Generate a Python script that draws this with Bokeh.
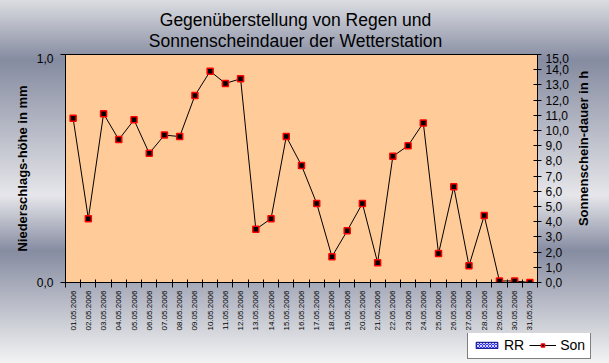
import math
from bokeh.plotting import figure
from bokeh.layouts import row, column
from bokeh.models import (Range1d, LinearAxis, FixedTicker, Legend,
                          LegendItem, ColumnDataSource)
from bokeh.core.properties import value
from bokeh.embed import file_html
from bokeh.resources import INLINE

# ---------------- data ----------------
dates = ["01.05.2006", "02.05.2006", "03.05.2006", "04.05.2006", "05.05.2006",
         "06.05.2006", "07.05.2006", "08.05.2006", "09.05.2006", "10.05.2006",
         "11.05.2006", "12.05.2006", "13.05.2006", "14.05.2006", "15.05.2006",
         "16.05.2006", "17.05.2006", "18.05.2006", "19.05.2006", "20.05.2006",
         "21.05.2006", "22.05.2006", "23.05.2006", "24.05.2006", "25.05.2006",
         "26.05.2006", "27.05.2006", "28.05.2006", "29.05.2006", "30.05.2006",
         "31.05.2006"]
rr = [0.0, 0.0, 0.0, 0.0, 0.0, 0.0, 0.0, 0.0, 0.0, 0.0,
      0.0, 0.0, 0.0, 0.0, 0.0, 0.0, 0.0, 0.0, 0.0, 0.0,
      0.0, 0.0, 0.0, 0.0, 0.0, 0.0, 0.0, 0.0, 0.0, 0.0, 0.0]
son = [10.8, 4.2, 11.1, 9.4, 10.7, 8.5, 9.7, 9.6, 12.3, 13.9,
       13.1, 13.4, 3.5, 4.2, 9.6, 7.7, 5.2, 1.7, 3.4, 5.2,
       1.3, 8.3, 9.0, 10.5, 1.9, 6.3, 1.1, 4.4, 0.1, 0.1, 0.0]
left_ticks = [0, 1]
left_labels = ["0,0", "1,0"]
right_ticks = [0, 1, 2, 3, 4, 5, 6, 7, 8, 9, 10, 11, 12, 13, 14, 15]
right_labels = ["0,0", "1,0", "2,0", "3,0", "4,0", "5,0", "6,0", "7,0",
                "8,0", "9,0", "10,0", "11,0", "12,0", "13,0", "14,0", "15,0"]
title_lines = ["Gegenüberstellung von Regen und",
               "Sonnenscheindauer der Wetterstation"]
left_title = "Niederschlags-höhe in mm"
right_title = "Sonnenschein-dauer in h"
series_names = ["RR", "Son"]

FONT = "Liberation Sans"
PAGE_W, PAGE_H = 609, 363
TOP_H = 53                      # title strip
MAIN_W, MAIN_H = 572, 279       # chart (frame starts 1px below its top)
STRIP_W = PAGE_W - MAIN_W
LEG_H = PAGE_H - TOP_H - MAIN_H
FRAME_L, FRAME_T, FRAME_W, FRAME_H = 65, 1, 472, 228


def blank(fig):
    fig.background_fill_alpha = 0
    fig.border_fill_alpha = 0
    fig.outline_line_color = None
    fig.grid.visible = False
    return fig


pos = list(range(1, len(dates) + 1))
src = ColumnDataSource(dict(x=pos, rr=rr, son=son, d=dates))

# ---------------- title strip ----------------
top = blank(figure(width=PAGE_W, height=TOP_H, x_range=Range1d(0, PAGE_W), y_range=Range1d(0, TOP_H),
                   min_border=0, output_backend="svg", toolbar_location=None, title=None,
                   x_axis_location=None, y_axis_location=None))
top.text(x=[295, 295], y=[TOP_H - 19, TOP_H - 40], text=title_lines,
         text_align="center", text_baseline="alphabetic",
         text_font=value(FONT), text_font_size="17.5px", text_color="black")

# ---------------- main chart ----------------
p = figure(frame_width=FRAME_W, frame_height=FRAME_H,
           min_border_left=FRAME_L, min_border_right=MAIN_W - FRAME_L - FRAME_W,
           min_border_top=FRAME_T, min_border_bottom=MAIN_H - FRAME_T - FRAME_H,
           x_range=Range1d(0.5, len(dates) + 0.5), y_range=Range1d(0, 1),
           x_axis_location=None, y_axis_location=None, title=None,
           output_backend="svg", toolbar_location=None)
p.extra_y_ranges = {"son": Range1d(0, 15)}
p.background_fill_color = "#ffcc99"
p.border_fill_alpha = 0
p.outline_line_color = "black"
p.outline_line_width = 1
p.grid.visible = False

xaxis = LinearAxis(
    ticker=FixedTicker(ticks=pos, minor_ticks=[i + 0.5 for i in range(0, len(dates) + 1)]),
    major_label_overrides={k: d for k, d in zip(pos, dates)},
    major_label_orientation=math.pi / 2,
    major_tick_line_color=None, major_tick_in=0, major_tick_out=5,
    minor_tick_line_color="black", minor_tick_in=3, minor_tick_out=5,
    major_label_standoff=3,
    major_label_text_font=FONT, major_label_text_font_size="8px",
    major_label_text_color="black",
    axis_line_color="black")
p.add_layout(xaxis, "below")

laxis = LinearAxis(
    ticker=FixedTicker(ticks=left_ticks),
    major_label_overrides={k: l for k, l in zip(left_ticks, left_labels)},
    major_tick_in=0, major_tick_out=5, minor_tick_line_color=None,
    major_label_standoff=7,
    major_label_text_font=FONT, major_label_text_font_size="12px",
    major_label_text_color="black",
    axis_label=left_title,
    axis_label_text_font=FONT, axis_label_text_font_size="13px",
    axis_label_text_font_style="bold", axis_label_text_color="black",
    axis_label_standoff=4,
    axis_line_color="black")
p.add_layout(laxis, "left")

raxis = LinearAxis(
    y_range_name="son",
    ticker=FixedTicker(ticks=right_ticks),
    major_label_overrides={k: l for k, l in zip(right_ticks, right_labels)},
    major_tick_in=4, major_tick_out=4, minor_tick_line_color=None,
    major_label_standoff=4,
    major_label_text_font=FONT, major_label_text_font_size="12px",
    major_label_text_color="black",
    axis_line_color="black")
p.add_layout(raxis, "right")

BAR_STYLE = dict(fill_color="#3030ff", line_color="#000080", line_width=1,
                 hatch_pattern="x", hatch_color="white", hatch_scale=3, hatch_weight=0.8)
LINE_STYLE = dict(line_color="black", line_width=1)
PT_STYLE = dict(marker="square", size=6, fill_color="black", line_color="red", line_width=1.5)

p.vbar(x="x", top="rr", width=0.6, source=src, **BAR_STYLE)
p.line("x", "son", source=src, y_range_name="son", **LINE_STYLE)
p.scatter("x", "son", source=src, y_range_name="son", **PT_STYLE)

# ---------------- right axis title strip ----------------
strip = blank(figure(width=STRIP_W, height=MAIN_H, x_range=Range1d(0, STRIP_W), y_range=Range1d(0, MAIN_H),
                     min_border=0, output_backend="svg", toolbar_location=None, title=None,
                     x_axis_location=None, y_axis_location=None))
strip.text(x=[583 - MAIN_W], y=[MAIN_H - (168.5 - TOP_H)], text=[right_title], angle=math.pi / 2,
           text_align="center", text_baseline="middle",
           text_font=value(FONT), text_font_size="13px", text_font_style="bold",
           text_color="black")

# ---------------- legend strip ----------------
lf = blank(figure(width=PAGE_W, height=LEG_H, x_range=Range1d(-2, -1), y_range=Range1d(-2, -1),
                  min_border=0, output_backend="svg", toolbar_location=None, title=None,
                  x_axis_location=None, y_axis_location=None))
r_bar = lf.vbar(x="x", top="rr", width=0.5, source=src, **BAR_STYLE)
r_line = lf.line("x", "son", source=src, **LINE_STYLE)
r_pt = lf.scatter("x", "son", source=src, **PT_STYLE)
legend = Legend(items=[LegendItem(label=series_names[0], renderers=[r_bar]),
                       LegendItem(label=series_names[1], renderers=[r_line, r_pt])],
                location=(467, 5), orientation="horizontal",
                glyph_width=27, glyph_height=8, label_standoff=4, spacing=5,
                padding=5, margin=0,
                label_text_font=FONT, label_text_font_size="14px",
                label_text_color="black",
                border_line_color="black", border_line_width=1,
                background_fill_color="white", background_fill_alpha=1)
lf.add_layout(legend, "center")

layout = column(top, row(p, strip), lf)
layout.styles = {"background": "linear-gradient(to bottom, #dcdde2 0%, #858ba0 16.5%, "
                               "#e6e6ea 53.7%, #868ca1 68.9%, #f4f4f4 100%)"}

open("out.html", "w").write(file_html(layout, INLINE))
